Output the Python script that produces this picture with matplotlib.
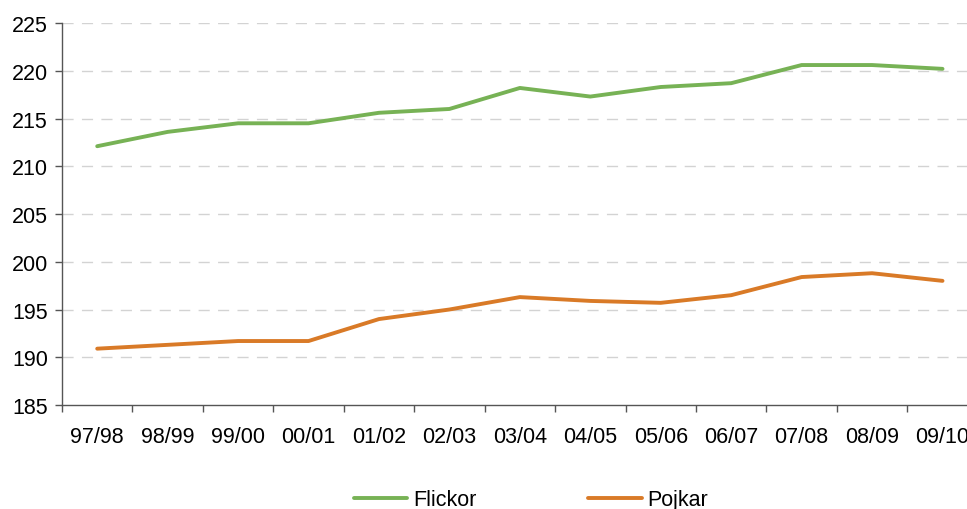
import matplotlib.pyplot as plt
import numpy as np

plt.rcParams['font.family'] = ['Liberation Sans', 'DejaVu Sans']

seasons = ["97/98", "98/99", "99/00", "00/01", "01/02", "02/03", "03/04",
           "04/05", "05/06", "06/07", "07/08", "08/09", "09/10"]
flickor = [212.1, 213.6, 214.5, 214.5, 215.6, 216.0, 218.2,
           217.3, 218.3, 218.7, 220.6, 220.6, 220.2]
pojkar = [190.9, 191.3, 191.7, 191.7, 194.0, 195.0, 196.3,
          195.9, 195.7, 196.5, 198.4, 198.8, 198.0]

fig = plt.figure(figsize=(9.67, 5.10), dpi=100)
ax = fig.add_axes([0.0641, 0.2039, 0.947, 0.749])

x = np.arange(len(seasons))
ax.plot(x, flickor, color="#77B255", lw=2.8, label="Flickor", solid_capstyle="round")
ax.plot(x, pojkar, color="#D97A27", lw=2.8, label="Pojkar", solid_capstyle="round")

ax.set_xlim(-0.5, len(seasons) - 0.5)
ax.set_ylim(185, 225)
ax.set_yticks(np.arange(185, 226, 5))

# category ticks sit between the labels
ax.set_xticks(np.arange(-0.5, len(seasons) + 0.5, 1))
ax.set_xticklabels([])
ax.set_xticks(x, minor=True)
ax.set_xticklabels(seasons, minor=True)
ax.tick_params(axis="x", which="major", length=5, width=1, color="#555555", direction="out")
ax.tick_params(axis="x", which="minor", length=0, pad=15, labelsize=15.5)
ax.tick_params(axis="y", length=5, width=1, color="#555555", labelsize=15.5, pad=5)

for gy in np.arange(190, 226, 5):
    ax.axhline(gy, color="#D3D3D3", lw=1, dashes=(8, 6), zorder=0)

for side in ["top", "right"]:
    ax.spines[side].set_visible(False)
for side in ["left", "bottom"]:
    ax.spines[side].set_color("#555555")
    ax.spines[side].set_linewidth(1)

fig.legend(loc="center", bbox_to_anchor=(0.549, 0.018), ncol=2, frameon=False,
           fontsize=15.5, handlelength=2.5, handletextpad=0.25, columnspacing=5.2)

fig.savefig("out.png", dpi=100)
